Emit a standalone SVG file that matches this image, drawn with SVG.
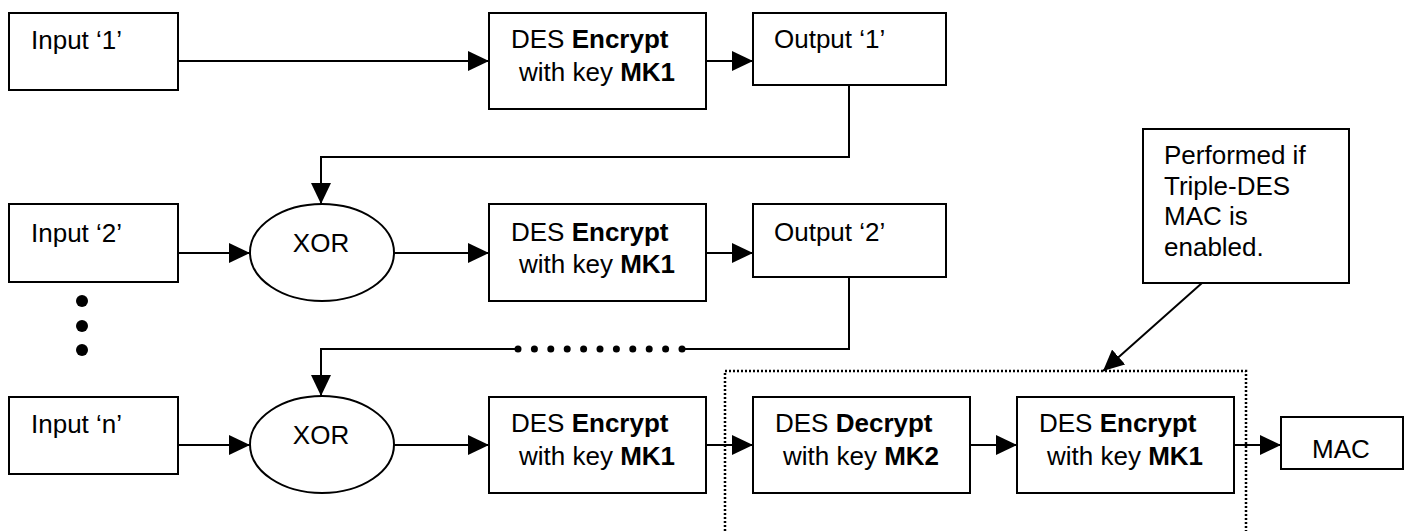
<svg xmlns="http://www.w3.org/2000/svg" width="1408" height="531" viewBox="0 0 1408 531">
<style>
.b{fill:#fff;stroke:#000;stroke-width:2}
.t{font-family:"Liberation Sans",Arial,sans-serif;font-size:26px;fill:#000}
.bd{font-weight:bold}
.c{fill:none;stroke:#000;stroke-width:2}
.dot{fill:#000}
</style>
<defs>
<marker id="ah" markerUnits="userSpaceOnUse" markerWidth="21" markerHeight="20" refX="21" refY="10" orient="auto">
<path d="M0,0 L21,10 L0,20 z" fill="#000"/>
</marker>
</defs>
<rect width="1408" height="531" fill="#fff"/>
<g id="connectors">
<line class="c" x1="178" y1="61" x2="489" y2="61" marker-end="url(#ah)"/>
<line class="c" x1="706" y1="61" x2="753" y2="61" marker-end="url(#ah)"/>
<path class="c" d="M849,85 V157 H321 V204" marker-end="url(#ah)"/>
<line class="c" x1="178" y1="253" x2="250" y2="253" marker-end="url(#ah)"/>
<line class="c" x1="394" y1="253" x2="489" y2="253" marker-end="url(#ah)"/>
<line class="c" x1="706" y1="253" x2="753" y2="253" marker-end="url(#ah)"/>
<path class="c" d="M849,277 V349 H685"/>
<path class="c" d="M515,349 H321 V396" marker-end="url(#ah)"/>
<g class="dot">
<circle cx="518" cy="349" r="3.5"/><circle cx="534.4" cy="349" r="3.5"/><circle cx="550.8" cy="349" r="3.5"/><circle cx="567.2" cy="349" r="3.5"/><circle cx="583.6" cy="349" r="3.5"/><circle cx="600" cy="349" r="3.5"/><circle cx="616.4" cy="349" r="3.5"/><circle cx="632.8" cy="349" r="3.5"/><circle cx="649.2" cy="349" r="3.5"/><circle cx="665.6" cy="349" r="3.5"/><circle cx="682" cy="349" r="3.5"/>
</g>
<line class="c" x1="178" y1="445" x2="250" y2="445" marker-end="url(#ah)"/>
<line class="c" x1="394" y1="445" x2="489" y2="445" marker-end="url(#ah)"/>
<line class="c" x1="706" y1="445" x2="753" y2="445" marker-end="url(#ah)"/>
<line class="c" x1="970" y1="445" x2="1017" y2="445" marker-end="url(#ah)"/>
<line class="c" x1="1234" y1="445" x2="1281" y2="445" marker-end="url(#ah)"/>
<line class="c" x1="1202" y1="283" x2="1103" y2="371" marker-end="url(#ah)"/>
</g>
<g id="ellipsis">
<circle class="dot" cx="82" cy="301" r="6"/>
<circle class="dot" cx="82" cy="326" r="6"/>
<circle class="dot" cx="82" cy="350" r="6"/>
</g>
<g id="input1"><rect class="b" x="9" y="13" width="169" height="77"/><text class="t" x="31" y="49">Input ‘1’</text></g>
<g id="enc1"><rect class="b" x="489" y="13" width="217" height="96"/><text class="t" x="511" y="48">DES <tspan class="bd">Encrypt</tspan></text><text class="t" x="519" y="81">with key <tspan class="bd">MK1</tspan></text></g>
<g id="output1"><rect class="b" x="753" y="13" width="193" height="72"/><text class="t" x="774" y="48">Output ‘1’</text></g>
<g id="input2"><rect class="b" x="9" y="204" width="169" height="78"/><text class="t" x="31" y="242">Input ‘2’</text></g>
<g id="xor2"><ellipse class="b" cx="322" cy="252.5" rx="72" ry="48.5"/><text class="t" x="321" y="252" text-anchor="middle">XOR</text></g>
<g id="enc2"><rect class="b" x="489" y="204" width="217" height="97"/><text class="t" x="511" y="241">DES <tspan class="bd">Encrypt</tspan></text><text class="t" x="519" y="273">with key <tspan class="bd">MK1</tspan></text></g>
<g id="output2"><rect class="b" x="753" y="204" width="193" height="73"/><text class="t" x="774" y="241">Output ‘2’</text></g>
<g id="inputn"><rect class="b" x="9" y="397" width="169" height="77"/><text class="t" x="31" y="433">Input ‘n’</text></g>
<g id="xorn"><ellipse class="b" cx="322" cy="444.5" rx="72" ry="48.5"/><text class="t" x="321" y="444" text-anchor="middle">XOR</text></g>
<g id="encn"><rect class="b" x="489" y="397" width="217" height="96"/><text class="t" x="511" y="432">DES <tspan class="bd">Encrypt</tspan></text><text class="t" x="519" y="465">with key <tspan class="bd">MK1</tspan></text></g>
<g id="tripledes">
<path d="M725,531 V371 H1246 V531" fill="none" stroke="#000" stroke-width="2.5" stroke-dasharray="2 2"/>
</g>
<g id="dec"><rect class="b" x="753" y="397" width="217" height="96"/><text class="t" x="775" y="432">DES <tspan class="bd">Decrypt</tspan></text><text class="t" x="783" y="465">with key <tspan class="bd">MK2</tspan></text></g>
<g id="enc3"><rect class="b" x="1017" y="397" width="217" height="96"/><text class="t" x="1039" y="432">DES <tspan class="bd">Encrypt</tspan></text><text class="t" x="1047" y="465">with key <tspan class="bd">MK1</tspan></text></g>
<g id="mac"><rect class="b" x="1281" y="417" width="122" height="52"/><text class="t" x="1341" y="458" text-anchor="middle">MAC</text></g>
<g id="callout"><rect class="b" x="1143" y="129" width="206" height="154"/>
<text class="t" x="1164" y="164">Performed if</text>
<text class="t" x="1164" y="195">Triple-DES</text>
<text class="t" x="1164" y="225">MAC is</text>
<text class="t" x="1164" y="256">enabled.</text>
</g>
</svg>
